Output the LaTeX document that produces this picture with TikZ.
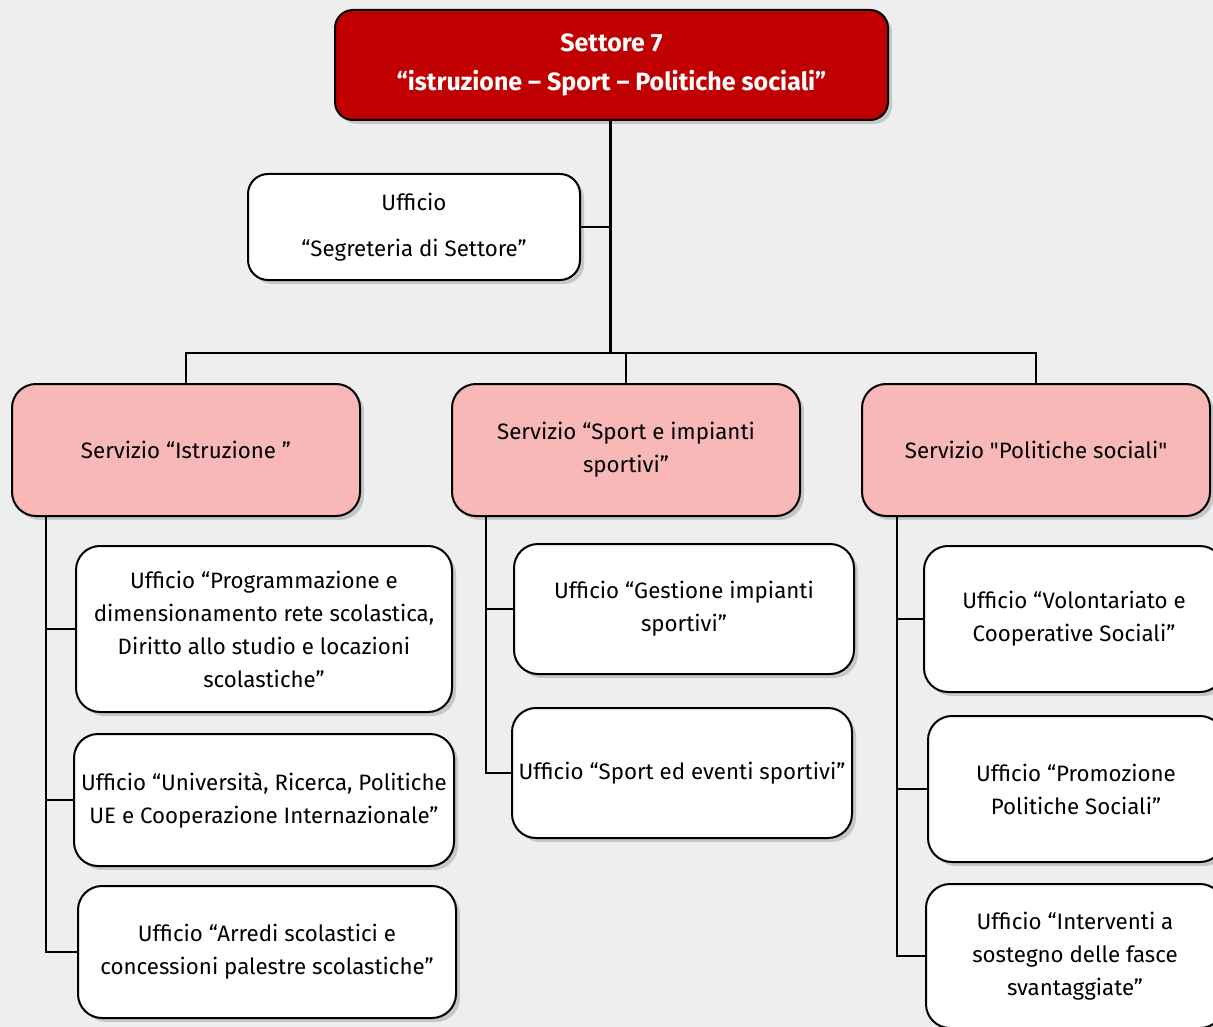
\documentclass[tikz,border=0pt]{standalone}
\usepackage{fontspec}
\setmainfont{Fira Sans}[Ligatures=TeXOff]
\usetikzlibrary{shadows}
\definecolor{topred}{RGB}{192,0,0}
\definecolor{pinkfill}{RGB}{248,184,184}
\definecolor{bgcol}{RGB}{238,238,238}
\tikzset{
  basebox/.style={draw=black, line width=2pt, align=center, inner sep=2pt,
    drop shadow={opacity=0.35, shadow xshift=4pt, shadow yshift=-4pt}},
  topbox/.style={basebox, fill=topred, rounded corners=18pt, text=white,
    font=\bfseries\fontsize{25}{39}\selectfont},
  servbox/.style={basebox, fill=pinkfill, rounded corners=24pt,
    font=\fontsize{22.3}{33}\selectfont},
  uffbox/.style={basebox, fill=white, rounded corners=24pt,
    font=\fontsize{22.3}{33}\selectfont},
  segbox/.style={basebox, fill=white, rounded corners=20pt,
    font=\fontsize{22.3}{46}\selectfont},
  conn/.style={draw=black, line width=1.5pt},
  mainconn/.style={draw=black, line width=3pt},
  subconn/.style={draw=black, line width=2pt},
}
\begin{document}
\begin{tikzpicture}[x=1pt,y=1pt]
\useasboundingbox (0,0) rectangle (1213,-1027);
\begin{scope}
\clip (0,0) rectangle (1213,-1027);
\fill[bgcol] (0,0) rectangle (1213,-1027);

% top
\node[topbox, minimum width=553pt, minimum height=110pt] (top) at (611.5,-65) {Settore 7\\“istruzione – Sport – Politiche sociali”};
\node[segbox, minimum width=332pt, minimum height=106pt] (seg) at (414,-227) {Ufficio\\“Segreteria di Settore”};

% servizi
\node[servbox, minimum width=348pt, minimum height=132pt] (s1) at (186,-450) {Servizio “Istruzione ”};
\node[servbox, minimum width=348pt, minimum height=132pt] (s2) at (626,-450) {Servizio “Sport e impianti\\sportivi”};
\node[servbox, minimum width=348pt, minimum height=132pt] (s3) at (1036,-450) {Servizio "Politiche sociali"};

% left column
\node[uffbox, minimum width=376pt, minimum height=166pt] (u1) at (264,-629) {Ufficio “Programmazione e\\dimensionamento rete scolastica,\\Diritto allo studio e locazioni\\scolastiche”};
\node[uffbox, minimum width=380pt, minimum height=132pt] (u2) at (264,-800) {Ufficio “Università, Ricerca, Politiche\\UE e Cooperazione Internazionale”};
\node[uffbox, minimum width=378pt, minimum height=132pt] (u3) at (267,-952) {Ufficio “Arredi scolastici e\\concessioni palestre scolastiche”};

% middle column
\node[uffbox, minimum width=340pt, minimum height=130pt] (m1) at (684,-609) {Ufficio “Gestione impianti\\sportivi”};
\node[uffbox, minimum width=340pt, minimum height=130pt] (m2) at (682,-773) {Ufficio “Sport ed eventi sportivi”};

% right column
\node[uffbox, minimum width=300pt, minimum height=146pt] (r1) at (1074,-619) {Ufficio “Volontariato e\\Cooperative Sociali”};
\node[uffbox, minimum width=296pt, minimum height=146pt] (r2) at (1076,-789) {Ufficio “Promozione\\Politiche Sociali”};
\node[uffbox, minimum width=298pt, minimum height=144pt] (r3) at (1075,-956) {Ufficio “Interventi a\\sostegno delle fasce\\svantaggiate”};

% coordinates
\coordinate (bus) at (610,-353);
\coordinate (l0) at (46,-516);
\coordinate (c0) at (486,-516);
\coordinate (d0) at (897,-516);

% connectors
\draw[conn] (seg.east) -- (seg.east -| bus);
\draw[conn] (s1.north) |- (bus) -| (s3.north);
\draw[conn] (s2.north) -- (s2.north |- bus);
\draw[mainconn] (top.south -| bus) -- (bus);

\draw[subconn] (l0) |- (u3.west);
\draw[conn] (u1.west -| l0) -- (u1.west);
\draw[conn] (u2.west -| l0) -- (u2.west);

\draw[subconn] (c0) |- (m2.west);
\draw[conn] (m1.west -| c0) -- (m1.west);

\draw[subconn] (d0) |- (r3.west);
\draw[conn] (r1.west -| d0) -- (r1.west);
\draw[conn] (r2.west -| d0) -- (r2.west);
\end{scope}
\end{tikzpicture}
\end{document}
